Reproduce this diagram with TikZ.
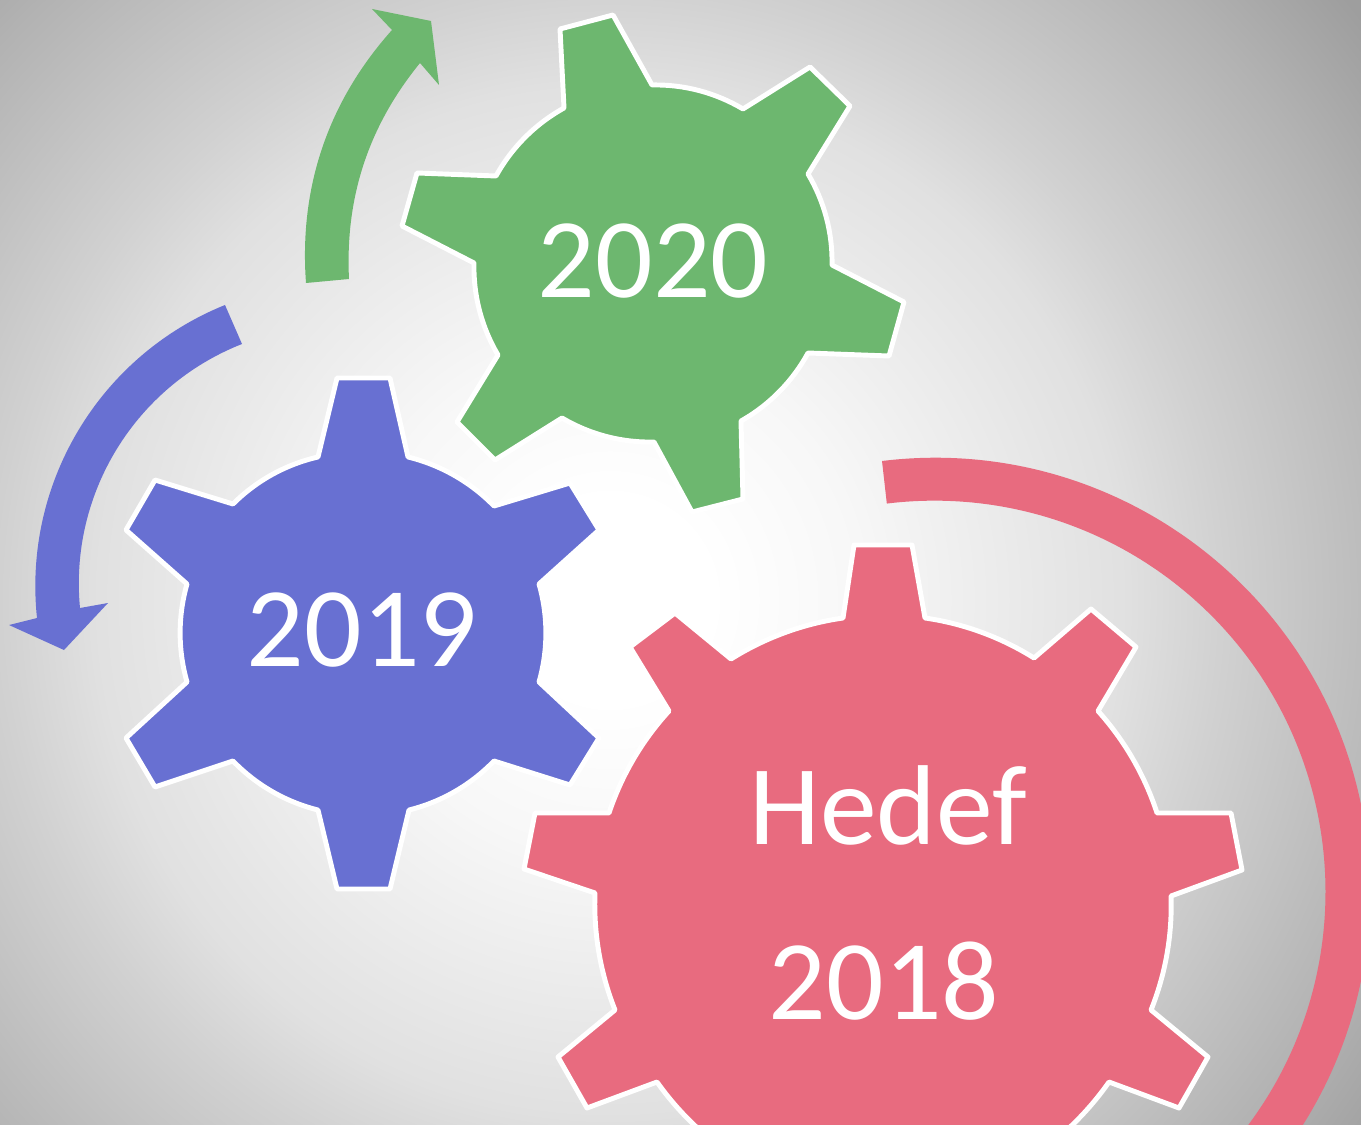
\documentclass[tikz,border=0pt]{standalone}
\usepackage{fontspec}
\setmainfont{Carlito}
\usepackage{tikz}
\definecolor{greencolor}{HTML}{6DB76F}
\definecolor{bluecolor}{HTML}{6870D2}
\definecolor{redcolor}{HTML}{E86B7F}
\pgfdeclareradialshading{backshade}{\pgfpoint{0bp}{0bp}}{
color(0bp)=(white);
color(2.5bp)=(white);
color(6.25bp)=(black!3);
color(12.9bp)=(black!12);
color(15.25bp)=(black!18);
color(20.6bp)=(black!30);
color(23.75bp)=(black!38);
color(25bp)=(black!38);
color(50bp)=(black!38)}
\tikzset{
gearshape/.style={draw=white,line width=1.4pt,line join=round},
gearbend/.style={bend left=16,looseness=0.87},
biggearbend/.style={bend left=12,looseness=0.86},
yeartext/.style={text=white,font=\fontsize{32.3}{38}\selectfont,inner sep=0pt}
}

\begin{document}
\begin{tikzpicture}[x=0.01cm,y=-0.01cm]
\useasboundingbox (0,0) rectangle (1361,1125);
\clip (0,0) rectangle (1361,1125);
\shade[shading=backshade] (610,600) circle (1000);
%arrows
\fill[bluecolor] (225,305) to[bend right=37,looseness=0.95] (37,618) -- (9,625) -- (64,650) -- (108,603) -- (80,608) to[bend left=37,looseness=0.95] (242,344) -- cycle;
\fill[greencolor] (306,283) to[bend left=23,looseness=0.92] (392,30) -- (372,9) -- (431,21) -- (439,85) -- (420,63) to[bend right=21,looseness=0.92] (349,279) -- cycle;
\fill[redcolor] (882,461) arc[start angle=-97,end angle=40,radius=435] -- (1234,1143) arc[start angle=40,end angle=-97,radius=391] -- cycle;
%2020
\draw[gearshape,fill=greencolor] (560,29) -- (613,15) -- (652,85) to[gearbend] (743,109) -- (810,67) -- (850,106) -- (808,174) to[gearbend] (832,265) -- (904,302) -- (889,356) -- (808,353) to[gearbend] (741,421) -- (743,499) -- (692,512) -- (654,442) to[gearbend] (562,418) -- (495,460) -- (457,422) -- (498,355) to[gearbend] (474,263) -- (402,226) -- (417,173) -- (496,176) to[gearbend] (564,108) -- cycle;
%2019
\draw[gearshape,fill=bluecolor] (337,378) -- (390,378) -- (408,457) to[gearbend] (494,506) -- (570,483) -- (599,530) -- (539,584) to[gearbend] (539,682) -- (599,738) -- (570,785) -- (494,761) to[gearbend] (409,810) -- (390,889) -- (337,889) -- (318,810) to[gearbend] (233,761) -- (155,787) -- (126,738) -- (187,682) to[gearbend] (187,584) -- (126,530) -- (155,480) -- (233,504) to[gearbend] (318,457) -- cycle;
%2018
\draw[gearshape,fill=redcolor] (854,545) -- (912,545) -- (925,618) to[biggearbend] (1034,658) -- (1091,609) -- (1136,647) -- (1098,711) to[biggearbend] (1157,813) -- (1231,813) -- (1242,870) -- (1171,896) to[biggearbend] (1151,1010) -- (1208,1057) -- (1179,1108) -- (1109,1082) to[biggearbend] (1020,1165) -- (747,1165) to[biggearbend] (657,1082) -- (587,1108) -- (558,1057) -- (615,1010) to[biggearbend] (595,893) -- (524,869) -- (535,813) -- (609,813) to[biggearbend] (669,711) -- (630,647) -- (675,613) -- (731,659) to[biggearbend] (843,618) -- cycle;
\node[yeartext] (greenyear) at (653,261) {2020};
\node[yeartext] (blueyear) at (362,630) {2019};
\node[yeartext] (redgoal) at (888,805) {Hedef};
\node[yeartext] (redyear) at (884,981) {2018};
\end{tikzpicture}
\end{document}
